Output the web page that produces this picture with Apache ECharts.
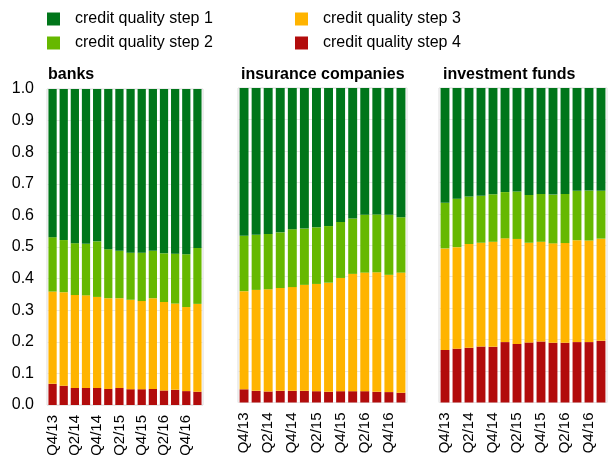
<!DOCTYPE html>
<html>
<head>
<meta charset="utf-8">
<script src="https://cdn.jsdelivr.net/npm/echarts@6/dist/echarts.min.js"></script>
<style>
  html, body { margin: 0; padding: 0; background: #fff; }
  #main { width: 609px; height: 460px; }
</style>
</head>
<body>
<div id="main"></div>
<script>
// quarters on the x axis
const quarters = ['Q4/13', 'Q1/14', 'Q2/14', 'Q3/14', 'Q4/14', 'Q1/15', 'Q2/15',
  'Q3/15', 'Q4/15', 'Q1/16', 'Q2/16', 'Q3/16', 'Q4/16', 'Q1/17']
const panelTitles = ['banks', 'insurance companies', 'investment funds']
const stepNames = ['credit quality step 1', 'credit quality step 2', 'credit quality step 3', 'credit quality step 4']
const yTicks = [0, 0.1, 0.2, 0.3, 0.4, 0.5, 0.6, 0.7, 0.8, 0.9, 1.0]

// shares per step
// banks
const banksStep4 = [0.067, 0.061, 0.054, 0.054, 0.054, 0.051, 0.054, 0.050, 0.050, 0.051, 0.046, 0.048, 0.044, 0.042]
const banksStep3 = [0.292, 0.296, 0.294, 0.293, 0.288, 0.287, 0.284, 0.283, 0.279, 0.287, 0.280, 0.273, 0.266, 0.278]
const banksStep2 = [0.172, 0.165, 0.164, 0.163, 0.176, 0.155, 0.150, 0.149, 0.153, 0.150, 0.154, 0.158, 0.167, 0.177]
const banksStep1 = [0.469, 0.478, 0.488, 0.490, 0.482, 0.507, 0.512, 0.518, 0.518, 0.512, 0.520, 0.521, 0.523, 0.503]
// insurance companies
const insStep4 = [0.042, 0.037, 0.035, 0.037, 0.037, 0.037, 0.036, 0.034, 0.036, 0.036, 0.036, 0.034, 0.033, 0.031]
const insStep3 = [0.312, 0.321, 0.325, 0.327, 0.330, 0.337, 0.341, 0.347, 0.360, 0.373, 0.377, 0.380, 0.373, 0.382]
const insStep2 = [0.176, 0.175, 0.176, 0.177, 0.184, 0.179, 0.180, 0.180, 0.178, 0.176, 0.184, 0.184, 0.191, 0.176]
const insStep1 = [0.470, 0.467, 0.464, 0.459, 0.449, 0.447, 0.443, 0.439, 0.426, 0.415, 0.403, 0.402, 0.403, 0.411]
// investment funds
const fundsStep4 = [0.167, 0.171, 0.174, 0.178, 0.177, 0.192, 0.186, 0.191, 0.194, 0.190, 0.190, 0.192, 0.192, 0.196]
const fundsStep3 = [0.323, 0.323, 0.330, 0.330, 0.334, 0.330, 0.334, 0.317, 0.317, 0.316, 0.317, 0.324, 0.323, 0.325]
const fundsStep2 = [0.145, 0.154, 0.151, 0.149, 0.151, 0.147, 0.151, 0.152, 0.152, 0.155, 0.156, 0.157, 0.159, 0.152]
const fundsStep1 = [0.365, 0.352, 0.345, 0.343, 0.338, 0.331, 0.329, 0.340, 0.337, 0.339, 0.337, 0.327, 0.326, 0.327]

const colors = ['#00761a', '#66b800', '#ffb400', '#b20c0c'] // step 1..4

const panels = [
  [banksStep1, banksStep2, banksStep3, banksStep4],
  [insStep1, insStep2, insStep3, insStep4],
  [fundsStep1, fundsStep2, fundsStep3, fundsStep4]
]

// plot boxes
const grids = [
  { left: 47, top: 89, width: 156, height: 316 },
  { left: 238, top: 88, width: 169, height: 314.5 },
  { left: 439, top: 88, width: 168, height: 314.5 }
]

const myChart = echarts.init(document.getElementById('main'), null, { renderer: 'canvas' })

const series = []
panels.forEach((p, gi) => {
  // bottom first: step 4, 3, 2, 1
  for (let s = 3; s >= 0; s--) {
    series.push({
      name: stepNames[s],
      type: 'bar',
      stack: 'p' + gi,
      xAxisIndex: gi,
      yAxisIndex: gi,
      barCategoryGap: '26%',
      itemStyle: { color: colors[s] },
      emphasis: { disabled: true },
      data: p[s]
    })
  }
})

const legendBase = {
  orient: 'vertical',
  top: 5,
  itemWidth: 13,
  itemHeight: 13,
  itemGap: 6,
  icon: 'rect',
  textStyle: { fontSize: 16, color: '#000', padding: [0, 0, 0, 10], lineHeight: 18 }
}

myChart.setOption({
  animation: false,
  textStyle: { fontFamily: 'Liberation Sans, Arial, sans-serif' },
  color: colors,
  legend: [
    Object.assign({ data: [stepNames[0], stepNames[1]], left: 42 }, legendBase),
    Object.assign({ data: [stepNames[2], stepNames[3]], left: 290 }, legendBase)
  ],
  title: panelTitles.map((t, i) => ({
    text: t,
    left: [43, 236, 438][i],
    top: 62,
    textStyle: { fontSize: 16, fontWeight: 'bold', color: '#000' }
  })),
  grid: grids.map(g => Object.assign({
    show: true,
    borderColor: '#dcdcdc',
    borderWidth: 1
  }, g)),
  xAxis: grids.map((g, i) => ({
    type: 'category',
    gridIndex: i,
    data: quarters,
    axisLine: { show: false },
    axisTick: { show: false },
    axisLabel: {
      interval: 1,
      rotate: 90,
      fontSize: 15,
      color: '#000',
      margin: 10
    }
  })),
  yAxis: grids.map((g, i) => ({
    type: 'value',
    gridIndex: i,
    min: 0,
    max: 1,
    interval: 0.1,
    axisLine: { show: false },
    axisTick: { show: false },
    splitLine: { lineStyle: { color: '#e8e8e8' } },
    axisLabel: {
      show: i === 0,
      fontSize: 16,
      color: '#000',
      margin: 13,
      formatter: v => v.toFixed(1)
    }
  })),
  series: series
})
</script>
</body>
</html>
